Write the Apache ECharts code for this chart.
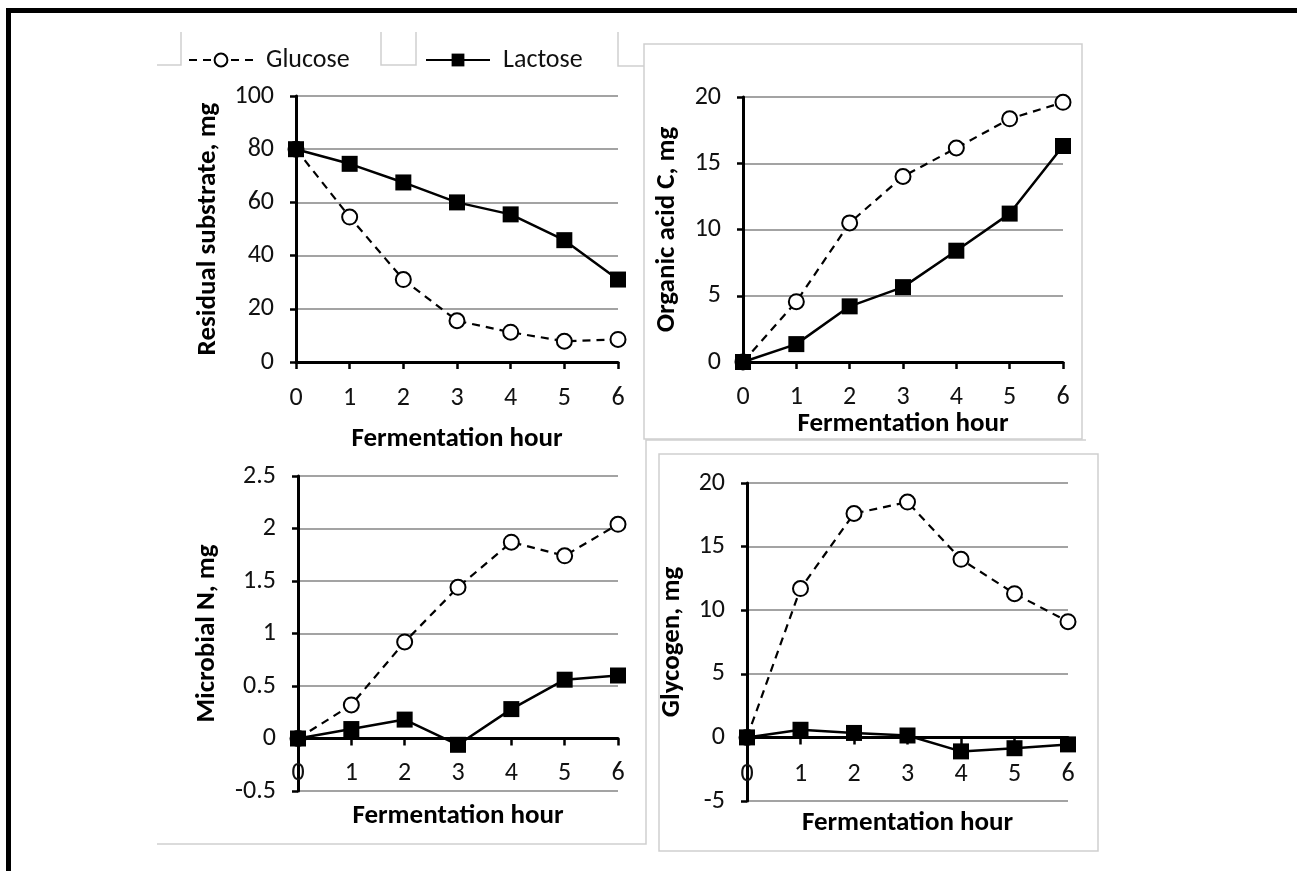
<!DOCTYPE html>
<html>
<head>
<meta charset="utf-8">
<title>Fermentation</title>
<script src="https://cdn.jsdelivr.net/npm/echarts@6/dist/echarts.min.js"></script>
<style>
  html, body { margin: 0; padding: 0; background: #fff; }
  #chart { width: 1297px; height: 871px; }
</style>
</head>
<body>
<div id="chart"></div>
<script>
// values (x = fermentation hour)
const hours = [0, 1, 2, 3, 4, 5, 6];
const substrateGlucose = [80, 54.5, 31, 15.5, 11.2, 7.8, 8.5];
const substrateLactose = [80, 74.5, 67.5, 60, 55.5, 45.8, 31];
const acidGlucose = [0, 4.55, 10.5, 14.0, 16.15, 18.35, 19.6];
const acidLactose = [0, 1.35, 4.2, 5.65, 8.4, 11.2, 16.3];
const nitrogenGlucose = [0, 0.32, 0.92, 1.44, 1.87, 1.74, 2.04];
const nitrogenLactose = [0, 0.09, 0.18, -0.06, 0.28, 0.56, 0.6];
const glycogenGlucose = [0, 11.7, 17.6, 18.5, 14.0, 11.3, 9.1];
const glycogenLactose = [0, 0.6, 0.35, 0.15, -1.1, -0.85, -0.55];

const yTitles = ['Residual substrate, mg', 'Organic acid C, mg', 'Microbial N, mg', 'Glycogen, mg'];
const xTitle = 'Fermentation hour';

const FONT = 'Calibri, Carlito, Lato, sans-serif';
const chart = echarts.init(document.getElementById('chart'));

const pair = arr => hours.map((h, i) => [h, arr[i]]);

const grids = [
  { left: 296, top: 96, width: 322, height: 266 },
  { left: 743, top: 97, width: 320, height: 265 },
  { left: 298, top: 476, width: 320, height: 315 },
  { left: 747, top: 483, width: 321, height: 318 }
].map(g => Object.assign({ outerBoundsMode: 'none', containLabel: false }, g));

const yRanges = [
  { min: 0, max: 100, interval: 20, gap: 74 },
  { min: 0, max: 20, interval: 5, gap: 62 },
  { min: -0.5, max: 2.5, interval: 0.5, gap: 77 },
  { min: -5, max: 20, interval: 5, gap: 61 }
];
const xNameGaps = [64, 46, 12, 9];
const xLabelMargins = [23, 22, 22, 24];

// v6 keeps x labels at the grid bottom even when the line sits on zero,
// so pull them up by the distance between the bottom and the zero line
const zeroShift = i => {
  const r = yRanges[i];
  return r.min < 0 ? grids[i].height * (0 - r.min) / (r.max - r.min) : 0;
};

const xAxes = grids.map((g, i) => ({
  type: 'value',
  gridIndex: i,
  min: 0,
  max: 6,
  interval: 1,
  name: xTitle,
  nameLocation: 'middle',
  nameGap: xNameGaps[i],
  nameTextStyle: { fontFamily: FONT, fontSize: 27, fontWeight: 'bold', color: '#000' },
  axisLine: { onZero: true, lineStyle: { color: '#000', width: 3 } },
  axisTick: { show: true, length: 7, lineStyle: { color: '#000', width: 2.5 } },
  axisLabel: { margin: xLabelMargins[i] - zeroShift(i), fontFamily: FONT, fontSize: 26, color: '#111' },
  splitLine: { show: false }
}));

const yAxes = yRanges.map((r, i) => ({
  type: 'value',
  gridIndex: i,
  min: r.min,
  max: r.max,
  interval: r.interval,
  name: yTitles[i],
  nameLocation: 'middle',
  nameGap: r.gap,
  nameTextStyle: { fontFamily: FONT, fontSize: 27, fontWeight: 'bold', color: '#000' },
  axisLine: { show: true, onZero: false, lineStyle: { color: '#000', width: 3 } },
  axisTick: { show: true, length: 6, lineStyle: { color: '#000', width: 2.5 } },
  axisLabel: { margin: 22, fontFamily: FONT, fontSize: 26, color: '#111' },
  splitLine: { show: true, lineStyle: { color: '#a3a3a3', width: 2 } }
}));

const glucoseSeries = (data, i) => ({
  name: 'Glucose',
  type: 'line',
  xAxisIndex: i,
  yAxisIndex: i,
  data: pair(data),
  symbol: 'circle',
  symbolSize: 15,
  itemStyle: { color: '#fff', borderColor: '#000', borderWidth: 2 },
  lineStyle: { color: '#000', width: 2.2, type: [8, 6] },
  z: 2
});
const lactoseSeries = (data, i) => ({
  name: 'Lactose',
  type: 'line',
  xAxisIndex: i,
  yAxisIndex: i,
  data: pair(data),
  symbol: 'rect',
  symbolSize: 16,
  itemStyle: { color: '#000', borderColor: '#000', borderWidth: 0 },
  lineStyle: { color: '#000', width: 2.5, type: 'solid' },
  z: 3
});

const series = [
  glucoseSeries(substrateGlucose, 0), lactoseSeries(substrateLactose, 0),
  glucoseSeries(acidGlucose, 1), lactoseSeries(acidLactose, 1),
  glucoseSeries(nitrogenGlucose, 2), lactoseSeries(nitrogenLactose, 2),
  glucoseSeries(glycogenGlucose, 3), lactoseSeries(glycogenLactose, 3)
];

const frame = { stroke: '#cfcfcf', lineWidth: 1.5, fill: null };
const graphic = [
  // outer black border (top and left only)
  { type: 'rect', shape: { x: 6, y: 8, width: 1291, height: 5 }, style: { fill: '#000' }, silent: true },
  { type: 'rect', shape: { x: 6, y: 8, width: 5, height: 863 }, style: { fill: '#000' }, silent: true },
  // stray chart-area frames from the pasted figure
  { type: 'polyline', shape: { points: [[157, 65], [181, 65], [181, 32]] }, style: frame, silent: true },
  { type: 'polyline', shape: { points: [[381, 32], [381, 65], [416, 65], [416, 32]] }, style: frame, silent: true },
  { type: 'polyline', shape: { points: [[618, 32], [618, 66], [644, 66]] }, style: frame, silent: true },
  { type: 'rect', shape: { x: 644, y: 44, width: 438, height: 395 }, style: frame, silent: true },
  { type: 'polyline', shape: { points: [[1086, 440], [646, 440], [646, 844], [157, 844]] }, style: frame, silent: true },
  { type: 'rect', shape: { x: 659, y: 454, width: 439, height: 397 }, style: frame, silent: true }
];

const legendBase = {
  orient: 'horizontal',
  top: 47,
  padding: 0,
  itemWidth: 64,
  itemHeight: 16,
  textStyle: { fontFamily: FONT, fontSize: 26, color: '#111', padding: [0, 0, 0, 8] },
  selectedMode: false
};

chart.setOption({
  backgroundColor: '#fff',
  animation: false,
  legend: [
    Object.assign({}, legendBase, { left: 188, data: ['Glucose'] }),
    Object.assign({}, legendBase, { left: 425, data: ['Lactose'] })
  ],
  grid: grids,
  xAxis: xAxes,
  yAxis: yAxes,
  series: series,
  graphic: graphic
});
</script>
</body>
</html>
